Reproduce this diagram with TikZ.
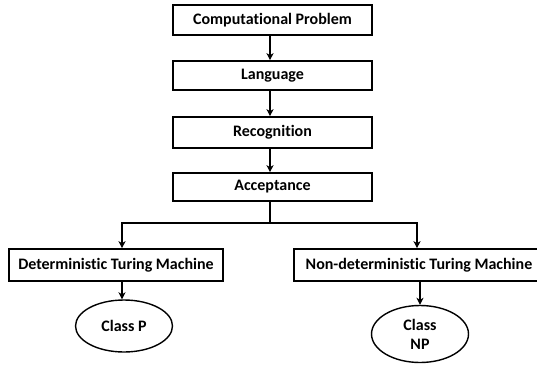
\documentclass[tikz,border=0pt]{standalone}
\usepackage{fontspec}
\setmainfont{Carlito}[Ligatures={NoCommon}]
\usetikzlibrary{arrows.meta,shapes.geometric}
\begin{document}
\begin{tikzpicture}[x=1pt,y=-1pt,
  box/.style={draw,line width=1.6pt,inner sep=0pt,font=\bfseries\fontsize{16}{17}\selectfont},
  oval/.style={draw,ellipse,line width=1.4pt,inner sep=0pt,font=\bfseries\fontsize{16}{19}\selectfont,align=center},
  arr/.style={line width=1.3pt,-{Stealth[length=7pt,width=7pt,inset=2pt]}}]
\useasboundingbox (0,0) rectangle (537,364);
\node[box,minimum width=199pt,minimum height=30pt] (cp) at (272.5,20) {Computational Problem};
\node[box,minimum width=199pt,minimum height=29pt] (lang) at (272.5,75.5) {Language};
\node[box,minimum width=199pt,minimum height=31pt] (rec) at (272.5,132.5) {Recognition};
\node[box,minimum width=199pt,minimum height=28pt] (acc) at (272.5,187) {Acceptance};
\node[box,minimum width=214pt,minimum height=32pt] (dtm) at (116,265) {Deterministic Turing Machine};
\node[box,minimum width=250pt,minimum height=32pt] (ndtm) at (419,265) {Non-deterministic Turing Machine};
\node[oval,minimum width=97pt,minimum height=52pt] (p) at (124,326) {Class P};
\node[oval,minimum width=97pt,minimum height=57pt] (np) at (420,334) {Class\\NP};
\coordinate (j) at (270,223);
\draw[arr] (cp.south -| 270,0) -- (lang.north -| 270,0);
\draw[arr] (lang.south -| 270,0) -- (rec.north -| 270,0);
\draw[arr] (rec.south -| 270,0) -- (acc.north -| 270,0);
\draw[line width=1.3pt] (acc.south -| j) -- (j);
\draw[arr] (j) -| (dtm.north -| 122,0);
\draw[arr] (j) -| (ndtm.north -| 417,0);
\draw[arr] (dtm.south -| 122,0) -- (p.north -| 122,0);
\draw[arr] (ndtm.south -| 420,0) -- (np.north);
\end{tikzpicture}
\end{document}
